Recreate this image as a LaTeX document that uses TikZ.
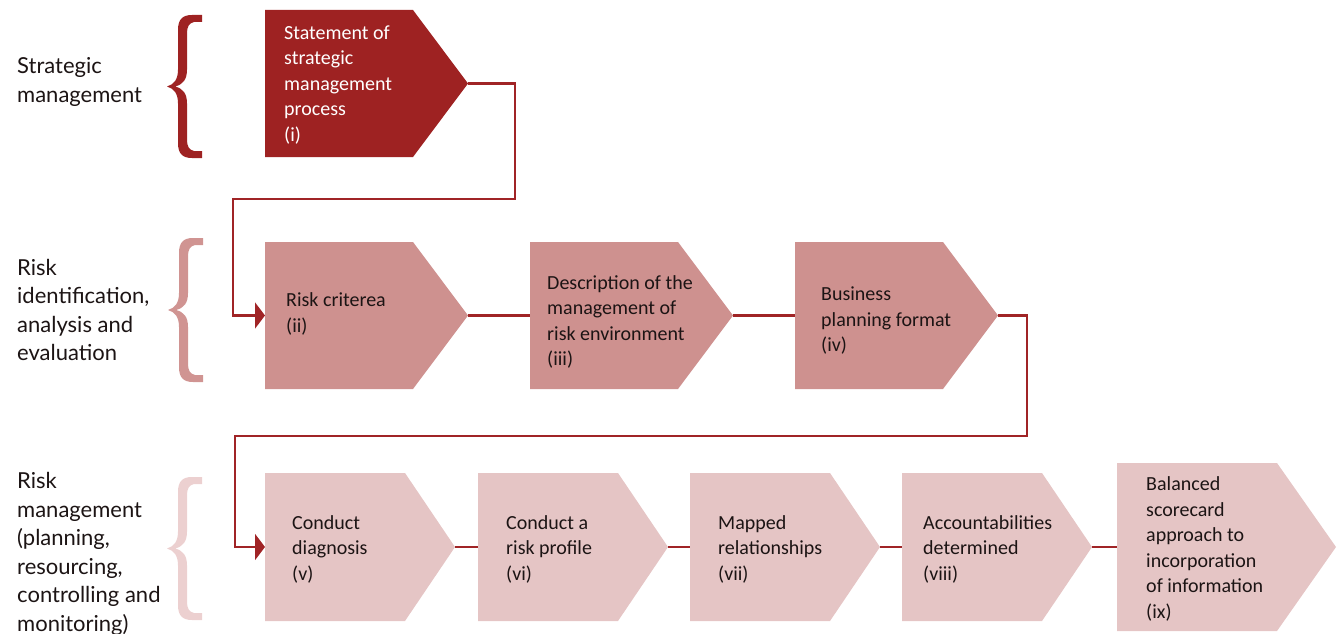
\documentclass[tikz,border=0pt]{standalone}
\usepackage{fontspec}
\setmainfont{Carlito}
\newfontfamily\sidefont{Lato}
\usetikzlibrary{arrows.meta}

\definecolor{stratred}{RGB}{158,34,34}
\definecolor{riskmid}{RGB}{206,145,143}
\definecolor{risklight}{RGB}{229,197,197}
\definecolor{linkred}{RGB}{160,36,38}
\definecolor{bracemid}{RGB}{208,148,146}
\definecolor{bracelight}{RGB}{236,208,208}
\definecolor{inktext}{RGB}{28,20,20}

% chevron: name, left x, top y, body width, point width, height, fill
\newcommand\chevshape[7]{%
  \fill[#7] (#2,#3) -- ++(#4,0) -- ++(#5,{#6/2}) -- ++(-#5,{#6/2})
    -- ++(-#4,0) -- cycle;
  \coordinate (#1-w) at (#2,{#3+#6/2});
  \coordinate (#1-e) at ({#2+#4+#5},{#3+#6/2});
}

% filled curly brace opening to the right: tip x, top y, bottom y, colour
\newcommand\bracefill[4]{%
  \pgfmathsetmacro\bm{(#2+#3)/2}
  \fill[#4] (#1,#2) -- (#1,{#2+7}) -- ({#1-8},{#2+7})
    .. controls ({#1-13},{#2+8}) and ({#1-15},{#2+12}) .. ({#1-15},{#2+18})
    -- ({#1-15},{\bm-17})
    .. controls ({#1-15},{\bm-7}) and ({#1-19},{\bm-2}) .. ({#1-27},\bm)
    .. controls ({#1-19},{\bm+2}) and ({#1-15},{\bm+7}) .. ({#1-15},{\bm+17})
    -- ({#1-15},{#3-18})
    .. controls ({#1-15},{#3-12}) and ({#1-13},{#3-8}) .. ({#1-8},{#3-7})
    -- (#1,{#3-7}) -- (#1,#3) -- ({#1-10},#3)
    .. controls ({#1-20},#3) and ({#1-24},{#3-5}) .. ({#1-24},{#3-15})
    -- ({#1-24},{\bm+17})
    .. controls ({#1-24},{\bm+7}) and ({#1-28},{\bm+2}) .. ({#1-35},\bm)
    .. controls ({#1-28},{\bm-2}) and ({#1-24},{\bm-7}) .. ({#1-24},{\bm-17})
    -- ({#1-24},{#2+15})
    .. controls ({#1-24},{#2+5}) and ({#1-20},#2) .. ({#1-10},#2) -- cycle;
}

\tikzset{
  steptext/.style={anchor=west, align=left, inner sep=0pt, text=inktext,
    font=\fontsize{20}{25.5}\selectfont},
  sidetext/.style={anchor=west, align=left, inner sep=0pt, text=inktext,
    font=\sidefont\fontsize{22}{28.5}\selectfont},
  link/.style={draw=linkred, line width=2.2pt},
  linkarrow/.style={link, -{Triangle[length=10pt,width=26pt]}},
}

\begin{document}
\begin{tikzpicture}[x=1pt,y=-1pt]
\useasboundingbox (0,0) rectangle (1341,634);
\clip (0,0) rectangle (1341,634);

% side labels
\node[sidetext] (lstrat) at (17,82) {Strategic\\management};
\node[sidetext] (lident) at (17,310) {Risk\\identification,\\analysis and\\evaluation};
\node[sidetext] (lmanage) at (17,554) {Risk\\management\\(planning,\\resourcing,\\controlling and\\monitoring)};

% braces
\bracefill{202}{15}{158}{stratred}
\bracefill{203}{238}{382}{bracemid}
\bracefill{202}{477}{620}{bracelight}

% chevrons
\chevshape{c1}{265}{10}{148}{55}{147}{stratred}
\chevshape{c2}{265}{242}{148}{55}{147}{riskmid}
\chevshape{c3}{530}{242}{148}{55}{147}{riskmid}
\chevshape{c4}{795}{242}{148}{55}{147}{riskmid}
\chevshape{c5}{265}{473}{140}{50}{148}{risklight}
\chevshape{c6}{478}{473}{140}{50}{148}{risklight}
\chevshape{c7}{690}{473}{140}{50}{148}{risklight}
\chevshape{c8}{902}{473}{140}{50}{148}{risklight}
\chevshape{c9}{1117}{463}{160}{59}{168}{risklight}

% step texts
\node[steptext, text=white] (t1) at (284,85) {Statement of\\strategic\\management\\process\\(i)};
\node[steptext] (t2) at (286,314) {Risk criterea\\(ii)};
\node[steptext] (t3) at (547,322) {Description of the\\management of\\risk environment\\(iii)};
\node[steptext] (t4) at (821,321) {Business\\planning format\\(iv)};
\node[steptext] (t5) at (292,549) {Conduct\\diagnosis\\(v)};
\node[steptext] (t6) at (506,549) {Conduct a\\risk profile\\(vi)};
\node[steptext] (t7) at (718,549) {Mapped\\relationships\\(vii)};
\node[steptext] (t8) at (923,549) {Accountabilities\\determined\\(viii)};
\node[steptext] (t9) at (1146,549) {Balanced\\scorecard\\approach to\\incorporation\\of information\\(ix)};

% connectors
\coordinate (k1) at (515,199);
\coordinate (k2) at (233,199);
\coordinate (k3) at (1027,436);
\coordinate (k4) at (235,436);
\draw[linkarrow] (c1-e) -| (k1) -- (k2) |- (c2-w);
\draw[link] (c2-e) -- (c3-w);
\draw[link] (c3-e) -- (c4-w);
\draw[linkarrow] (c4-e) -| (k3) -- (k4) |- (c5-w);
\draw[link] (c5-e) -- (c6-w);
\draw[link] (c6-e) -- (c7-w);
\draw[link] (c7-e) -- (c8-w);
\draw[link] (c8-e) -- (c9-w);
\end{tikzpicture}
\end{document}
